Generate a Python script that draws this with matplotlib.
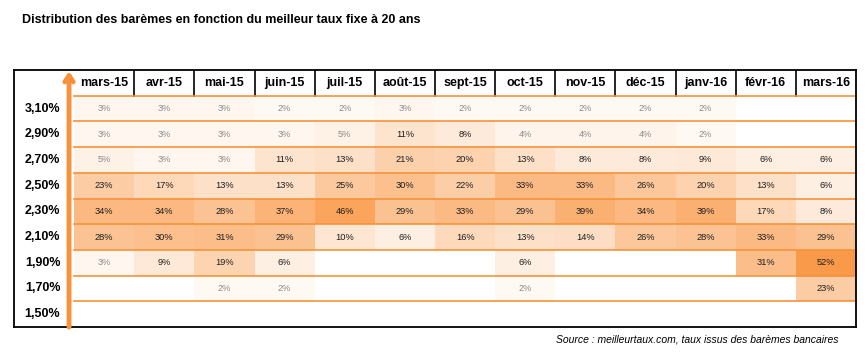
import numpy as np
import matplotlib
matplotlib.use("Agg")
from matplotlib import pyplot as plt
from matplotlib.colors import LinearSegmentedColormap

plt.rcParams['font.family'] = ['Liberation Sans', 'DejaVu Sans']

months = ["mars-15", "avr-15", "mai-15", "juin-15", "juil-15", "août-15", "sept-15",
          "oct-15", "nov-15", "déc-15", "janv-16", "févr-16", "mars-16"]
rates = ["3,10%", "2,90%", "2,70%", "2,50%", "2,30%", "2,10%", "1,90%", "1,70%", "1,50%"]

# share of bank offers (%) per best rate, one list per rate (None = no offer)
r310 = [3, 3, 3, 2, 2, 3, 2, 2, 2, 2, 2, None, None]
r290 = [3, 3, 3, 3, 5, 11, 8, 4, 4, 4, 2, None, None]
r270 = [5, 3, 3, 11, 13, 21, 20, 13, 8, 8, 9, 6, 6]
r250 = [23, 17, 13, 13, 25, 30, 22, 33, 33, 26, 20, 13, 6]
r230 = [34, 34, 28, 37, 46, 29, 33, 29, 39, 34, 39, 17, 8]
r210 = [28, 30, 31, 29, 10, 6, 16, 13, 14, 26, 28, 33, 29]
r190 = [3, 9, 19, 6, None, None, None, 6, None, None, None, 31, 52]
r170 = [None, None, 2, 2, None, None, None, 2, None, None, None, None, 23]
r150 = [None] * 13

grid = [r310, r290, r270, r250, r230, r210, r190, r170, r150]
vals = np.array([[np.nan if v is None else v for v in row] for row in grid], dtype=float)

orange = "#F7923A"
cmap = LinearSegmentedColormap.from_list("orng", ["#FFFFFF", "#F99A4A"])

W, H = 868, 357
fig = plt.figure(figsize=(W / 100, H / 100), dpi=100)
ax = fig.add_axes([14 / W, 1 - 327 / H, (856 - 14) / W, (327 - 70) / H])
ax.set_xlim(-1, len(months))
ax.set_ylim(len(rates), -1)
ax.set_xticks([])
ax.set_yticks([])
for s in ax.spines.values():
    s.set_linewidth(1.3)
    s.set_color("black")

# cells
shade = (np.nan_to_num(vals) / 52.0) ** 0.85
shade = np.ma.masked_where(np.isnan(vals), shade)
ax.pcolormesh(np.arange(len(months) + 1), np.arange(len(rates) + 1), shade,
              cmap=cmap, vmin=0, vmax=1, shading="flat")

for i in range(len(rates)):
    for j in range(len(months)):
        v = vals[i, j]
        if np.isnan(v):
            continue
        col = "#8C8C8C" if v < 6 else "#1E1E1E"
        ax.text(j + 0.5, i + 0.5, "%d%%" % v, ha="center", va="center",
                fontsize=6.7, color=col)

# header
for j, m in enumerate(months):
    ax.text(j + 0.5, -0.5, m, ha="center", va="center", fontsize=9, fontweight="bold")
    if j > 0:
        ax.plot([j, j], [-1, 0], color="black", lw=1.2)

# row labels
for i, r in enumerate(rates):
    ax.text(-0.23, i + 0.5, r, ha="right", va="center", fontsize=9, fontweight="bold")

# orange separators
for i in range(len(rates)):
    ax.plot([0, len(months)], [i, i], color=orange, lw=1.2)

# arrow
ax.annotate("", xy=(-0.085, -0.95), xytext=(-0.085, len(rates)),
            arrowprops=dict(arrowstyle="->,head_length=0.45,head_width=0.3",
                            color=orange, lw=3.5, shrinkA=0, shrinkB=0))

fig.text(22 / W, 1 - 20 / H, "Distribution des barèmes en fonction du meilleur taux fixe à 20 ans",
         fontsize=9, fontweight="bold", ha="left", va="center")
fig.text(838 / W, 1 - 340 / H, "Source : meilleurtaux.com, taux issus des barèmes bancaires",
         fontsize=7.5, style="italic", ha="right", va="center")

fig.savefig("out.png", dpi=100)
